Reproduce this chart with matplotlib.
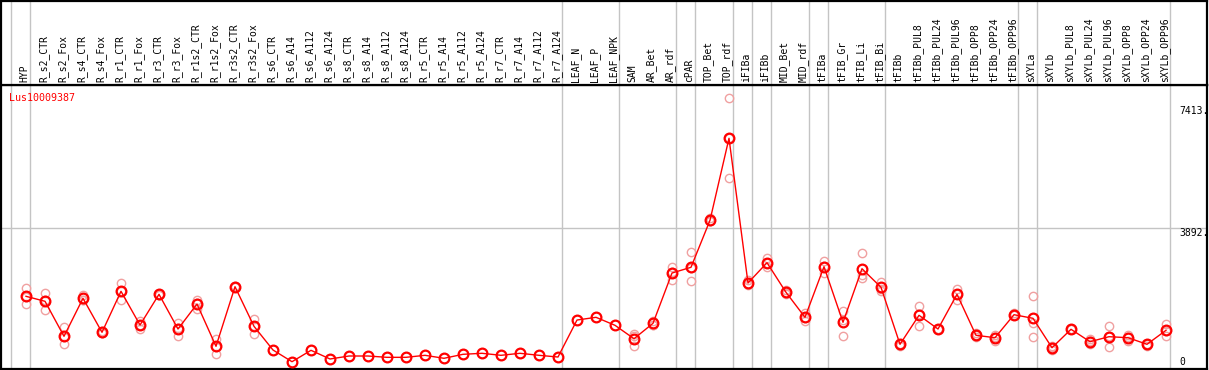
import numpy as np
import matplotlib
matplotlib.use("Agg")
import matplotlib.pyplot as plt

gene = "Lus10009387"

samples = ["HYP", "R_s2_CTR", "R_s2_Fox", "R_s4_CTR", "R_s4_Fox", "R_r1_CTR", "R_r1_Fox",
           "R_r3_CTR", "R_r3_Fox", "R_r1s2_CTR", "R_r1s2_Fox", "R_r3s2_CTR", "R_r3s2_Fox",
           "R_s6_CTR", "R_s6_A14", "R_s6_A112", "R_s6_A124", "R_s8_CTR", "R_s8_A14",
           "R_s8_A112", "R_s8_A124", "R_r5_CTR", "R_r5_A14", "R_r5_A112", "R_r5_A124",
           "R_r7_CTR", "R_r7_A14", "R_r7_A112", "R_r7_A124", "LEAF_N", "LEAF_P", "LEAF_NPK",
           "SAM", "AR_Bet", "AR_rdf", "cPAR", "TOP_Bet", "TOP_rdf", "iFIBa", "iFIBb",
           "MID_Bet", "MID_rdf", "tFIBa", "tFIB_Gr", "tFIB_Li", "tFIB_Bi", "tFIBb",
           "tFIBb_PUL8", "tFIBb_PUL24", "tFIBb_PUL96", "tFIBb_OPP8", "tFIBb_OPP24",
           "tFIBb_OPP96", "sXYLa", "sXYLb", "sXYLb_PUL8", "sXYLb_PUL24", "sXYLb_PUL96",
           "sXYLb_OPP8", "sXYLb_OPP24", "sXYLb_OPP96"]

# mean expression per sample
means = [1935, 1791, 783, 1877, 898, 2079, 1108, 1992, 993, 1713, 495, 2211, 1071,
         389, 52, 380, 130, 216, 216, 178, 178, 236, 150, 265, 294, 236, 294, 236, 187,
         1252, 1330, 1100, 714, 1157, 2605, 2770, 4123, 6484, 2318, 2902, 2050, 1330,
         2787, 1186, 2729, 2194, 553, 1388, 993, 1992, 812, 743, 1405, 1301, 455, 985,
         628, 772, 743, 553, 956]

# individual replicates (empty where none are drawn)
reps = [[2174, 1713, 1918], [2021, 1532, 1820], [1042, 553, 754], [1960, 1840, 1830],
        [930, 880, 884], [2318, 1837, 2082], [1232, 993, 1099], [2010, 1980, 1986],
        [1166, 783, 1030], [1837, 1569, 1733], [714, 282, 489], [2230, 2200, 2203],
        [1281, 858, 1074],
        [], [], [], [], [], [], [], [], [], [], [], [], [], [], [], [], [], [], [],
        [849, 512, 781], [1232, 1120, 1119], [2778, 2404, 2633], [3201, 2367, 2742],
        [4189, 4090, 4090], [7635, 5332, 6485], [2404, 2251, 2299], [3046, 2778, 2882],
        [2116, 1992, 2042], [1445, 1232, 1313], [2951, 2597, 2813], [1503, 792, 1263],
        [3181, 2453, 2553], [2346, 2096, 2140], [512, 575, 572], [1647, 1088, 1429],
        [1000, 990, 989], [2145, 1837, 1994], [869, 754, 813], [812, 656, 761],
        [1445, 1385, 1385], [1935, 1175, 772], [512, 389, 464], [990, 980, 985],
        [697, 553, 634], [1071, 466, 779], [812, 656, 761], [512, 575, 572],
        [1137, 792, 939]]

# group separators: after these sample indices
separators = [-1, 0, 28, 31, 34, 35, 37, 38, 39, 41, 42, 45, 52, 53, 60]

ytick_vals = [0, 3892, 7413]
ytick_labels = ["0", "3892.", "7413."]

W, H = 1209, 370
fig = plt.figure(figsize=(W / 100, H / 100), dpi=100)

xlo, xhi = (1 - 26) / 19, (1207 - 26) / 19
ax = fig.add_axes([1 / W, 1 / H, 1206 / W, 284 / H])
axl = fig.add_axes([1 / W, 285 / H, 1206 / W, 84 / H], sharex=ax)
ax.set_xlim(xlo, xhi)
ax.set_ylim(-158, 8018)

mono = "DejaVu Sans Mono"
for a in (ax, axl):
    a.set_xticks([])
    a.set_yticks([])
    for s in a.spines.values():
        s.set_color("black")
        s.set_linewidth(1.6)
    for k in separators:
        a.axvline(k + 4 / 19, color="#c4c4c4", lw=1.0, zorder=0)

ax.axhline(3892, color="#c4c4c4", lw=1.0, zorder=0)

x = np.arange(len(samples))
for i, r in enumerate(reps):
    if r:
        ax.plot([i] * len(r), r, "o", ms=6, mfc="none", mec="#f0a0a0", mew=1.0, zorder=2)
ax.plot(x, means, "-", color="red", lw=1.0, zorder=3)
ax.plot(x, means, "o", ms=7, mfc="none", mec="red", mew=1.6, zorder=4)

for i, name in enumerate(samples):
    axl.text(i - 0.08, 0.04, name, rotation=90, ha="center", va="bottom",
             fontsize=7, family=mono, transform=axl.get_xaxis_transform())

ax.text(0.007, 0.955, gene, color="red", fontsize=7.2, family=mono,
        ha="left", va="center", transform=ax.transAxes)

for v, lab in zip(ytick_vals, ytick_labels):
    ax.text(0.9768, v + (30 if v == 0 else 0), lab, fontsize=7, family=mono,
            ha="left", va="center" if v == 0 else "top",
            transform=ax.get_yaxis_transform())

fig.savefig("out.png", dpi=100)
